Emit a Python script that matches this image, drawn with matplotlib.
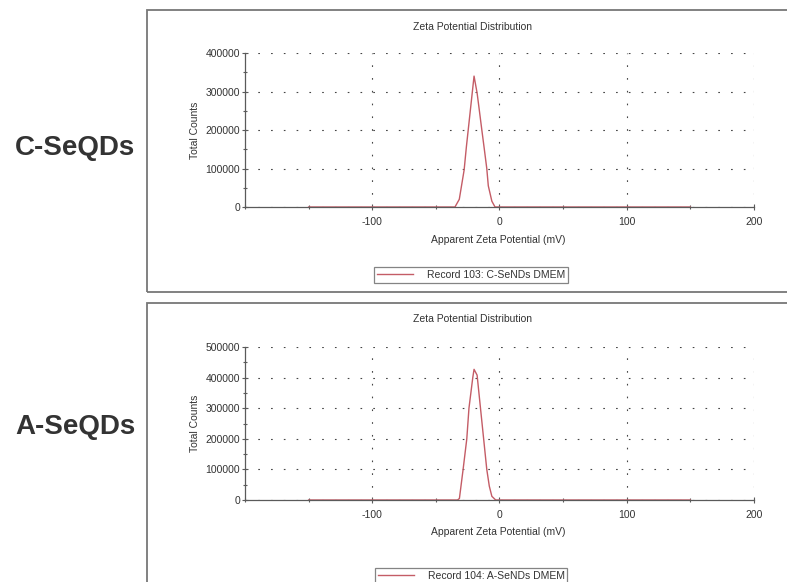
import matplotlib
matplotlib.use("Agg")
import matplotlib.pyplot as plt
from matplotlib.patches import Rectangle
from matplotlib.ticker import MultipleLocator

plt.rcParams['font.family'] = ['Liberation Sans', 'DejaVu Sans']

# zeta potential (mV) vs total counts
c_x = [-150, -35, -31.6, -27.8, -26, -24, -22, -20, -17.6, -16, -14, -12, -10, -8.8, -6, -3.5, 150]
c_y = [0, 0, 20000, 96000, 157000, 218000, 279000, 340000, 296000, 255000, 203000, 152000, 100000, 55000, 15000, 0, 0]

a_x = [-150, -33, -31.5, -28.6, -25.7, -24, -21, -20, -17.6, -16, -14, -12, -10, -8, -6, -3, 150]
a_y = [0, 0, 5000, 100000, 200000, 300000, 400000, 427000, 408000, 343000, 262000, 181000, 100000, 45000, 12000, 0, 0]

row_labels = ['C-SeQDs', 'A-SeQDs']
legend_labels = ['Record 103: C-SeNDs DMEM', 'Record 104: A-SeNDs DMEM']
y_tops = [400000, 500000]

W, H = 787, 582
red = '#c45c66'
grey = '#5a5a5a'
txt = '#333333'

fig = plt.figure(figsize=(W / 100, H / 100), dpi=100)


def fx(px):
    return px / W


def fy(py):
    return 1 - py / H


# panel frames (pixel boxes of the original screenshot)
fig.add_artist(Rectangle((fx(147), fy(292)), 1, fy(10) - fy(292), transform=fig.transFigure,
                         fill=False, edgecolor='#777777', lw=1.3))
fig.add_artist(Rectangle((fx(147), fy(620)), 1, fy(303) - fy(620), transform=fig.transFigure,
                         fill=False, edgecolor='#777777', lw=1.3))

panels = [
    dict(x=c_x, y=c_y, top=53, bottom=207, title_y=27, xlabel_y=240, legend_y=275, row_y=148),
    dict(x=a_x, y=a_y, top=347, bottom=500, title_y=319, xlabel_y=532, legend_y=576, row_y=427),
]

for i, p in enumerate(panels):
    ax = fig.add_axes([fx(245), fy(p['bottom']), fx(754) - fx(245), fy(p['top']) - fy(p['bottom'])])
    line, = ax.plot(p['x'], p['y'], color=red, lw=1.0)
    ax.set_xlim(-200, 200)
    ax.set_ylim(0, y_tops[i])
    ax.xaxis.set_major_locator(MultipleLocator(100))
    ax.xaxis.set_minor_locator(MultipleLocator(50))
    ax.yaxis.set_major_locator(MultipleLocator(100000))
    ax.yaxis.set_minor_locator(MultipleLocator(50000))
    ax.set_xticks([-100, 0, 100, 200])
    ax.set_xticklabels(['-100', '0', '100', '200'])
    ax.spines['top'].set_visible(False)
    ax.spines['right'].set_visible(False)
    for s in ('left', 'bottom'):
        ax.spines[s].set_color(grey)
        ax.spines[s].set_linewidth(0.9)
    ax.tick_params(which='major', direction='inout', length=4, width=0.8, color=grey,
                   labelsize=7.5, labelcolor=txt)
    ax.tick_params(axis='y', which='major', pad=1.5)
    ax.tick_params(axis='x', which='major', pad=5)
    ax.tick_params(which='minor', direction='inout', length=3, width=0.8, color=grey)
    ax.grid(True, which='major', color='#444444', lw=0.8, linestyle=(0, (1.5, 10)))
    ax.set_ylabel('Total Counts', fontsize=7.5, color=txt, labelpad=4)
    ax.set_axisbelow(True)

    fig.text(fx(472), fy(p['title_y']), 'Zeta Potential Distribution', fontsize=7.5,
             color=txt, ha='center', va='center')
    fig.text(fx(498), fy(p['xlabel_y']), 'Apparent Zeta Potential (mV)', fontsize=7.5,
             color=txt, ha='center', va='center')
    leg = ax.legend([line], [legend_labels[i]], loc='center',
                    bbox_to_anchor=(fx(471), fy(p['legend_y'])), bbox_transform=fig.transFigure,
                    fontsize=7.5, frameon=True, fancybox=False, handlelength=3.5,
                    borderpad=0.25, handletextpad=1.3, borderaxespad=0)
    leg.get_frame().set_edgecolor('#666666')
    leg.get_frame().set_linewidth(0.9)
    for t in leg.get_texts():
        t.set_color(txt)

    fig.text(fx(75), fy(p['row_y']), row_labels[i], fontsize=20, fontweight='bold',
             color=txt, ha='center', va='center')

fig.savefig('out.png', dpi=100)
